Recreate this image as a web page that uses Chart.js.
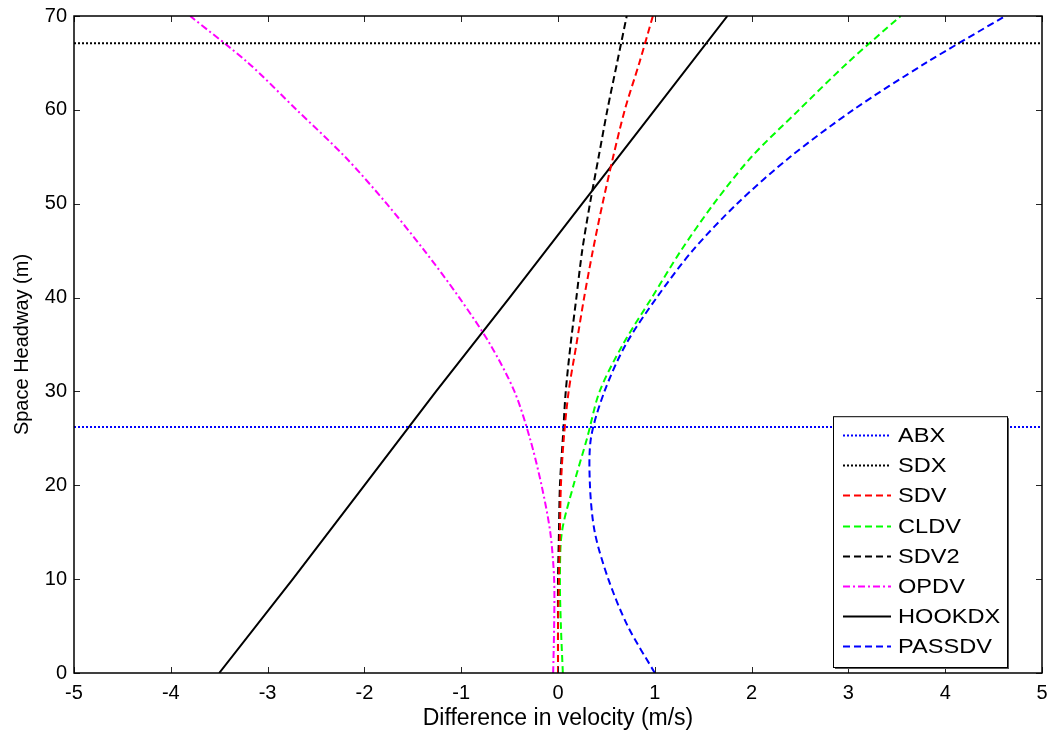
<!DOCTYPE html>
<html>
<head>
<meta charset="utf-8">
<title>Space headway vs difference in velocity</title>
<script src="https://cdn.jsdelivr.net/npm/chart.js@4.4.1/dist/chart.umd.min.js"></script>
<style>
  html, body { margin: 0; padding: 0; background: #fff; }
  canvas { display: block; }
</style>
</head>
<body>
<canvas id="myChart" width="1052" height="738"></canvas>
<script>
// headway levels (m) the curves were read at
const headway = [0, 5, 10, 15, 20, 25, 30, 35, 40, 45, 50, 55, 60, 65, 70];

// difference in velocity (m/s) per headway level
const sdv    = [0.0, 0.0, 0.01, 0.02, 0.03, 0.06, 0.11, 0.19, 0.27, 0.36, 0.46, 0.57, 0.69, 0.84, 0.98];
const cldv   = [0.05, 0.03, 0.02, 0.04, 0.16, 0.30, 0.43, 0.67, 0.97, 1.27, 1.61, 2.0, 2.49, 2.99, 3.54];
const sdv2   = [0.0, 0.0, 0.0, 0.01, 0.02, 0.05, 0.08, 0.13, 0.19, 0.25, 0.33, 0.42, 0.51, 0.61, 0.71];
const opdv   = [-0.05, -0.04, -0.04, -0.08, -0.17, -0.29, -0.45, -0.70, -1.02, -1.38, -1.77, -2.2, -2.7, -3.2, -3.8];
const passdv = [1.0, 0.72, 0.52, 0.38, 0.33, 0.34, 0.48, 0.70, 1.02, 1.39, 1.85, 2.40, 3.05, 3.80, 4.62];

// HOOKDX is close to a straight line
const hookHeadway = [0, 10, 20, 30, 40, 50, 60, 70];
const hookdx      = [-3.5, -2.74, -2.0, -1.26, -0.5, 0.25, 1.0, 1.75];

// horizontal threshold lines
const abxLevel = 26.2;
const sdxLevel = 67.1;

const xTicks = [-5, -4, -3, -2, -1, 0, 1, 2, 3, 4, 5];
const yTicks = [0, 10, 20, 30, 40, 50, 60, 70];

function pairs(xs, ys) {
    return xs.map((x, i) => ({ x: x, y: ys[i] }));
}
function hline(level) {
    return [{ x: xTicks[0], y: level }, { x: xTicks[xTicks.length - 1], y: level }];
}

const FONT = '"Liberation Sans", Arial, sans-serif';

// box round the plot with inward tick marks
const framePlugin = {
    id: 'frame',
    afterDatasetsDraw(chart) {
        const { ctx, chartArea: a, scales } = chart;
        ctx.save();
        ctx.strokeStyle = '#262626';
        ctx.lineWidth = 1;
        ctx.setLineDash([]);
        ctx.beginPath();
        scales.x.ticks.forEach(t => {
            const px = Math.round(scales.x.getPixelForValue(t.value)) + 0.5;
            ctx.moveTo(px, a.bottom); ctx.lineTo(px, a.bottom - 6);
            ctx.moveTo(px, a.top); ctx.lineTo(px, a.top + 6);
        });
        scales.y.ticks.forEach(t => {
            const py = Math.round(scales.y.getPixelForValue(t.value)) + 0.5;
            ctx.moveTo(a.left, py); ctx.lineTo(a.left + 6, py);
            ctx.moveTo(a.right, py); ctx.lineTo(a.right - 6, py);
        });
        ctx.stroke();
        ctx.strokeStyle = '#000';
        ctx.lineWidth = 1.5;
        ctx.strokeRect(Math.round(a.left), Math.round(a.top), Math.round(a.width), Math.round(a.height));
        ctx.restore();
    }
};

// legend box inside the plot, bottom right
const boxLegend = {
    id: 'boxLegend',
    afterDraw(chart) {
        const { ctx, chartArea: a } = chart;
        const w = 174, rowH = 30.1;
        const n = chart.data.datasets.length;
        const h = n * rowH + 10;
        const x0 = a.right - 35 - w;
        const y0 = a.bottom - 6 - h;
        ctx.save();
        ctx.fillStyle = '#fff';
        ctx.fillRect(x0, y0, w, h);
        ctx.fillStyle = '#555';
        ctx.fillRect(x0 + w, y0 + 2, 2, h);
        ctx.fillRect(x0 + 2, y0 + h, w, 2);
        ctx.strokeStyle = '#000';
        ctx.lineWidth = 1;
        ctx.strokeRect(x0 + 0.5, y0 + 0.5, w, h);
        ctx.font = '20px ' + FONT;
        ctx.textBaseline = 'middle';
        chart.data.datasets.forEach((ds, i) => {
            const y = Math.round(y0 + 19 + i * rowH) + 0.5;
            ctx.strokeStyle = ds.borderColor;
            ctx.lineWidth = ds.borderWidth;
            ctx.setLineDash(ds.borderDash || []);
            ctx.beginPath();
            ctx.moveTo(x0 + 10, y);
            ctx.lineTo(x0 + 58, y);
            ctx.stroke();
            // the original text is a little wider than Liberation Sans
            ctx.save();
            ctx.translate(x0 + 65, y + 1);
            ctx.scale(1.18, 1);
            ctx.fillStyle = '#000';
            ctx.fillText(ds.label, 0, 0);
            ctx.restore();
        });
        ctx.restore();
    }
};

const common = { showLine: true, pointRadius: 0, fill: false, tension: 0.3, borderWidth: 2 };

const canvas = document.getElementById('myChart');

if (canvas) {
    const ctx = canvas.getContext('2d');

    new Chart(ctx, {
        type: 'scatter',
        data: {
            datasets: [
                { ...common, label: 'ABX', data: hline(abxLevel), borderColor: '#0000ff', borderDash: [2, 2], tension: 0 },
                { ...common, label: 'SDX', data: hline(sdxLevel), borderColor: '#000000', borderDash: [2, 2], tension: 0 },
                { ...common, label: 'SDV', data: pairs(sdv, headway), borderColor: '#ff0000', borderDash: [7, 4] },
                { ...common, label: 'CLDV', data: pairs(cldv, headway), borderColor: '#00ff00', borderDash: [7, 4] },
                { ...common, label: 'SDV2', data: pairs(sdv2, headway), borderColor: '#000000', borderDash: [7, 4] },
                { ...common, label: 'OPDV', data: pairs(opdv, headway), borderColor: '#ff00ff', borderDash: [7, 3, 2, 3] },
                { ...common, label: 'HOOKDX', data: pairs(hookdx, hookHeadway), borderColor: '#000000', tension: 0 },
                { ...common, label: 'PASSDV', data: pairs(passdv, headway), borderColor: '#0000ff', borderDash: [7, 4] }
            ]
        },
        options: {
            responsive: false,
            animation: false,
            devicePixelRatio: 1,
            layout: {
                padding: { left: 0, right: 10, top: 16, bottom: 0 }
            },
            scales: {
                x: {
                    type: 'linear',
                    min: -5,
                    max: 5,
                    afterBuildTicks: (scale) => { scale.ticks = xTicks.map(v => ({ value: v })); },
                    afterFit: (scale) => {
                        scale.height = 65;
                        // let layout.padding alone decide the plot edges
                        scale.paddingLeft = 0;
                        scale.paddingRight = 0;
                    },
                    grid: { display: false, drawTicks: false },
                    border: { display: false },
                    ticks: {
                        color: '#000',
                        padding: 8,
                        maxRotation: 0,
                        font: { family: FONT, size: 20 }
                    },
                    title: {
                        display: true,
                        text: 'Difference in velocity (m/s)',
                        color: '#000',
                        font: { family: FONT, size: 23 },
                        padding: { top: 0, bottom: 6 }
                    }
                },
                y: {
                    type: 'linear',
                    min: 0,
                    max: 70,
                    afterBuildTicks: (scale) => { scale.ticks = yTicks.map(v => ({ value: v })); },
                    afterFit: (scale) => {
                        scale.width = 74;
                        scale.paddingTop = 0;
                        scale.paddingBottom = 0;
                    },
                    grid: { display: false, drawTicks: false },
                    border: { display: false },
                    ticks: {
                        color: '#000',
                        padding: 7,
                        font: { family: FONT, size: 20 }
                    },
                    title: {
                        display: true,
                        text: 'Space Headway (m)',
                        color: '#000',
                        font: { family: FONT, size: 20 },
                        padding: { top: 10, bottom: 0 }
                    }
                }
            },
            plugins: {
                legend: { display: false },
                tooltip: { enabled: false }
            }
        },
        plugins: [framePlugin, boxLegend]
    });
} else {
    console.error("Canvas element with id 'myChart' not found.");
}
</script>
</body>
</html>
